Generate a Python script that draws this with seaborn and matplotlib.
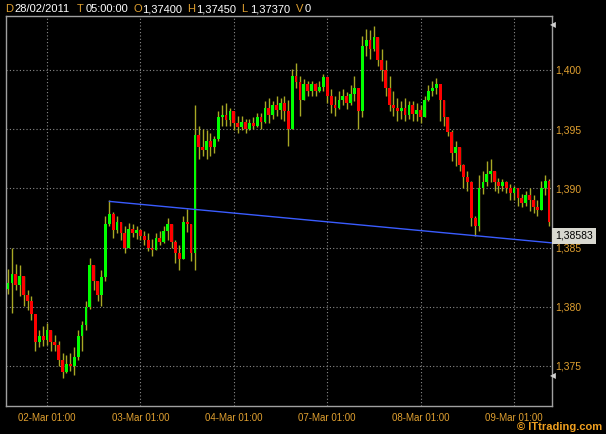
import matplotlib
matplotlib.use("Agg")
import numpy as np
import pandas as pd
import seaborn as sns
import matplotlib.pyplot as plt

# ---------------- data (prices in 1/10000, e.g. 13820 -> 1.3820) ----------------
first_open = 13815
close_pips = [
    13820, 13828, 13818, 13826, 13810, 13805, 13794, 13770, 13775, 13772,
    13780, 13770, 13768, 13755, 13745, 13752, 13750, 13758, 13775, 13785,
    13800, 13835, 13822, 13810, 13825, 13870, 13878, 13865, 13872, 13862,
    13850, 13866, 13862, 13865, 13860, 13856, 13850, 13848, 13858, 13855,
    13864, 13870, 13855, 13845, 13840, 13872, 13870, 13845, 13945, 13935,
    13932, 13940, 13935, 13942, 13960, 13962, 13958, 13965, 13955, 13952,
    13956, 13950, 13955, 13953, 13960, 13956, 13968, 13962, 13970, 13966,
    13972, 13965, 13950, 13995, 13990, 13975, 13988, 13982, 13988, 13982,
    13986, 13994, 13978, 13970, 13968, 13975, 13978, 13972, 13980, 13985,
    13965, 14020, 14025, 14018, 14028, 14008, 14000, 13985, 13970, 13968,
    13965, 13968, 13962, 13970, 13963, 13966, 13960, 13975, 13982, 13985,
    13988, 13975, 13960, 13948, 13930, 13935, 13920, 13910, 13905, 13875,
    13868, 13900, 13905, 13912, 13915, 13905, 13902, 13905, 13900, 13896,
    13900, 13892, 13888, 13894, 13890, 13884, 13882, 13900, 13906, 13872,
]
high_pips = [
    13832, 13850, 13836, 13835, 13820, 13814, 13809, 13790, 13780, 13784,
    13786, 13780, 13776, 13771, 13761, 13759, 13761, 13766, 13780, 13788,
    13805, 13841, 13835, 13822, 13831, 13877, 13890, 13880, 13877, 13870,
    13868, 13871, 13870, 13868, 13866, 13864, 13862, 13857, 13862, 13864,
    13868, 13875, 13868, 13856, 13852, 13877, 13883, 13868, 13970, 13953,
    13950, 13949, 13947, 13944, 13965, 13970, 13972, 13968, 13964, 13961,
    13961, 13959, 13959, 13960, 13964, 13964, 13974, 13976, 13974, 13978,
    13976, 13978, 13975, 14001, 14006, 13995, 13992, 13991, 13991, 13989,
    13991, 13997, 13989, 13984, 13978, 13982, 13984, 13981, 13987, 13995,
    13985, 14029, 14035, 14034, 14037, 14024, 14018, 14008, 13995, 13982,
    13976, 13974, 13976, 13974, 13974, 13972, 13970, 13978, 13987, 13991,
    13993, 13985, 13974, 13957, 13949, 13940, 13932, 13921, 13915, 13906,
    13877, 13911, 13915, 13923, 13925, 13915, 13909, 13908, 13906, 13904,
    13902, 13898, 13895, 13898, 13900, 13894, 13890, 13906, 13911, 13908,
]
low_pips = [
    13811, 13795, 13814, 13809, 13801, 13797, 13789, 13763, 13766, 13767,
    13768, 13763, 13763, 13750, 13740, 13744, 13746, 13742, 13755, 13763,
    13780, 13798, 13814, 13805, 13801, 13822, 13868, 13858, 13862, 13856,
    13845, 13858, 13859, 13857, 13856, 13852, 13847, 13843, 13849, 13852,
    13854, 13856, 13850, 13837, 13831, 13840, 13863, 13839, 13831, 13925,
    13927, 13925, 13927, 13930, 13940, 13953, 13953, 13953, 13949, 13947,
    13949, 13947, 13949, 13950, 13952, 13950, 13955, 13955, 13959, 13961,
    13959, 13957, 13936, 13950, 13985, 13961, 13975, 13978, 13978, 13978,
    13981, 13982, 13972, 13964, 13961, 13967, 13970, 13967, 13970, 13974,
    13950, 13960, 14012, 14009, 14016, 14003, 13991, 13978, 13965, 13961,
    13957, 13959, 13957, 13959, 13957, 13957, 13955, 13960, 13974, 13978,
    13980, 13957, 13953, 13944, 13923, 13919, 13915, 13900, 13898, 13868,
    13860, 13864, 13895, 13902, 13905, 13898, 13896, 13898, 13896, 13890,
    13890, 13885, 13884, 13885, 13881, 13879, 13877, 13885, 13894, 13868,
]
tick_bars = [10, 34, 58, 82, 106, 130]
tick_labels = ["02-Mar 01:00", "03-Mar 01:00", "04-Mar 01:00",
               "07-Mar 01:00", "08-Mar 01:00", "09-Mar 01:00"]
y_ticks = [1.375, 1.380, 1.385, 1.390, 1.395, 1.400]
y_tick_labels = ["1,375", "1,380", "1,385", "1,390", "1,395", "1,400"]
trend_x = [26, 139.6]
trend_y = [1.3889, 1.3854]
trend_label = "1,38583"
header = [("D", "28/02/2011"), ("T", "05:00:00"), ("O", "1,37400"),
          ("H", "1,37450"), ("L", "1,37370"), ("V", "0")]

# ---------------- style ----------------
sns.set_style("dark", {"axes.facecolor": "black", "figure.facecolor": "black"})
plt.rcParams["font.family"] = ["Liberation Sans", "DejaVu Sans"]

ORANGE = "#e0a030"
W, H = 606, 434
fig = plt.figure(figsize=(W / 100, H / 100), dpi=100, facecolor="black")
ax = fig.add_axes([5.5 / W, (H - 406) / H, 546 / W, 390.5 / H])
ax.set_facecolor("black")

close = np.array(close_pips) / 1e4
opn = np.array([first_open] + close_pips[:-1]) / 1e4
high = np.maximum.reduce([np.array(high_pips) / 1e4, opn, close])
low = np.minimum.reduce([np.array(low_pips) / 1e4, opn, close])
df = pd.DataFrame({"bar": np.arange(len(close)), "open": opn, "high": high,
                   "low": low, "close": close})
df["up"] = df["close"] >= df["open"]
colors = np.where(df["up"], "#00ff00", "#ff0000")

ax.vlines(df["bar"], df["low"], df["high"], colors="#a8a824", linewidth=1.0, zorder=3)
body_bottom = np.minimum(df["open"], df["close"])
body_h = np.maximum(np.abs(df["close"] - df["open"]), 0.00005)
ax.bar(df["bar"], body_h, bottom=body_bottom, width=0.72, color=colors,
       linewidth=0, zorder=4)

sns.lineplot(x=trend_x, y=trend_y, ax=ax, color="#3a5cff", linewidth=1.0, zorder=5)

ax.set_xlim(-0.663, 139.62)
ax.set_ylim(1.37162, 1.40460)

ax.set_xticks(tick_bars)
ax.set_xticklabels(tick_labels, fontsize=7, color=ORANGE)
ax.set_yticks(y_ticks)
ax.set_yticklabels(y_tick_labels, fontsize=7.5, color=ORANGE)
ax.yaxis.tick_right()
ax.tick_params(axis="y", length=0, pad=2.5)
ax.tick_params(axis="x", length=0, pad=5)
ax.grid(True, color="#8a8a8a", linestyle=(0, (1, 2)), linewidth=0.8)
ax.set_axisbelow(True)
for s in ax.spines.values():
    s.set_visible(True)
    s.set_color("#a0a0a0")
    s.set_linewidth(1.0)
ax.set_xlabel("")
ax.set_ylabel("")

# trend value label
fig.text(555 / W, 1 - 236 / H, trend_label, fontsize=7.5, color="black",
         va="center", ha="left",
         bbox=dict(boxstyle="square,pad=0.3", facecolor="#d8d8d0", edgecolor="none"))

# small arrows at right border
for yy in (25, 376):
    fig.text(553 / W, 1 - yy / H, "\u25C0", fontsize=5.5, color="#d0d0d0",
             ha="center", va="center", family="DejaVu Sans")

# header
hx = [5, 77, 133, 187, 241, 296]
for (k, v), x0 in zip(header, hx):
    fig.text(x0 / W, 1 - 9 / H, k, fontsize=8, color=ORANGE, va="center", ha="left")
    fig.text((x0 + 9) / W, 1 - 9 / H, v, fontsize=8, color="white", va="center", ha="left")

fig.text(602 / W, 1 - 427 / H, "\u00a9 ITtrading.com", fontsize=8, fontweight="bold",
         color="#f0a020", ha="right", va="center")

fig.savefig("out.png", dpi=100, facecolor="black")
